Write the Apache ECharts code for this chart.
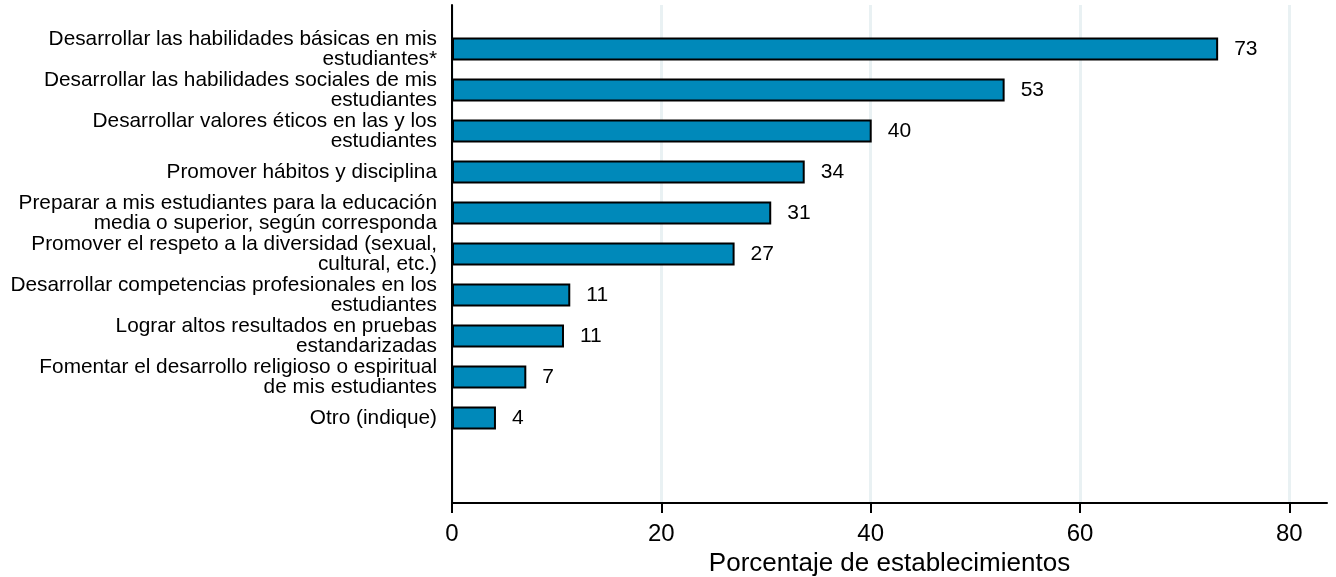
<!DOCTYPE html>
<html>
<head>
<meta charset="utf-8">
<script src="https://cdn.jsdelivr.net/npm/echarts@6/dist/echarts.min.js"></script>
<style>
html,body{margin:0;padding:0;background:#fff;}
#chart{width:1336px;height:577px;}
</style>
</head>
<body>
<div id="chart"></div>
<script>
const categories = [
  "Desarrollar las habilidades básicas en mis\nestudiantes*",
  "Desarrollar las habilidades sociales de mis\nestudiantes",
  "Desarrollar valores éticos en las y los\nestudiantes",
  "Promover hábitos y disciplina",
  "Preparar a mis estudiantes para la educación\nmedia o superior, según corresponda",
  "Promover el respeto a la diversidad (sexual,\ncultural, etc.)",
  "Desarrollar competencias profesionales en los\nestudiantes",
  "Lograr altos resultados en pruebas\nestandarizadas",
  "Fomentar el desarrollo religioso o espiritual\nde mis estudiantes",
  "Otro (indique)"
];
const values = [73.2, 52.8, 40.1, 33.7, 30.5, 27.0, 11.3, 10.7, 7.1, 4.2];
const xTicks = [0, 20, 40, 60, 80];
const xTitle = "Porcentaje de establecimientos";

const font = "'Liberation Sans', Arial, sans-serif";
const chart = echarts.init(document.getElementById('chart'), null, {renderer: 'canvas'});
const XMAX = 83.6;
chart.setOption({
  animation: false,
  grid: [
    {left: 452, right: 9, top: 5, bottom: 74, containLabel: false, outerBoundsMode: 'none'},
    {left: 452, right: 9, top: 28.5, height: 410, containLabel: false, outerBoundsMode: 'none'}
  ],
  xAxis: [
    {
      gridIndex: 0, type: 'value', min: 0, max: XMAX,
      axisLine: {show: true, lineStyle: {color: '#000', width: 2}},
      axisTick: {show: true, length: 10, lineStyle: {color: '#000', width: 2}, customValues: xTicks},
      axisLabel: {customValues: xTicks, color: '#000', fontFamily: font, fontSize: 24, margin: 19},
      splitLine: {show: true, lineStyle: {color: '#e9f1f3', width: 3}},
      name: xTitle, nameLocation: 'middle', nameGap: 44,
      nameTextStyle: {color: '#000', fontFamily: font, fontSize: 26}
    },
    {
      gridIndex: 1, type: 'value', min: 0, max: XMAX, show: false
    }
  ],
  yAxis: [
    {
      gridIndex: 0, type: 'value', min: 0, max: 1,
      axisLine: {show: true, lineStyle: {color: '#000', width: 2}},
      axisTick: {show: false}, axisLabel: {show: false}, splitLine: {show: false}
    },
    {
      gridIndex: 1, type: 'category', inverse: true, data: categories,
      axisLine: {show: false}, axisTick: {show: false}, splitLine: {show: false},
      axisLabel: {
        color: '#000', fontFamily: font, fontSize: 20.8, lineHeight: 20, align: 'right', margin: 15
      }
    }
  ],
  series: [{
    type: 'bar', xAxisIndex: 1, yAxisIndex: 1,
    data: values,
    barWidth: 23,
    itemStyle: {color: '#0089ba', borderColor: '#000', borderWidth: 2},
    label: {
      show: true, position: 'right', distance: 16,
      formatter: p => Math.round(p.value),
      color: '#000', fontFamily: font, fontSize: 21
    }
  }]
});
</script>
</body>
</html>
